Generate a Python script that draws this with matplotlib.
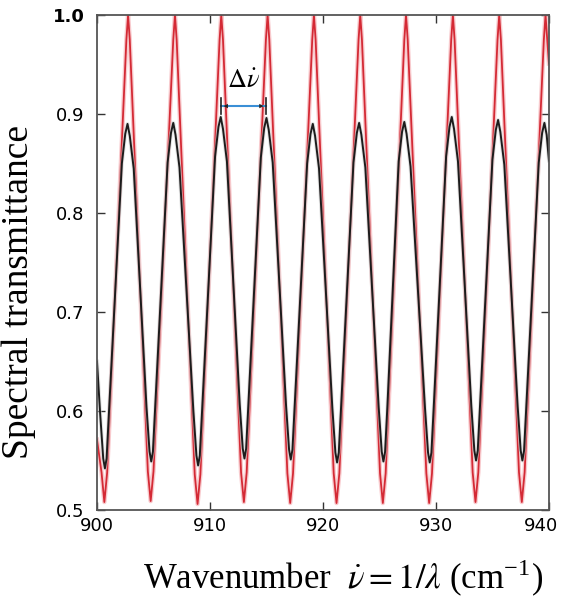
import numpy as np
import matplotlib.pyplot as plt

plt.rcParams['mathtext.fontset'] = 'stix'

# extrema (cm^-1, transmittance)
red_trough_x = [900.65, 904.75, 908.9, 913.0, 917.1, 921.2, 925.3, 929.4, 933.5, 937.6]
red_trough_y = [0.508, 0.509, 0.506, 0.508, 0.507, 0.507, 0.507, 0.507, 0.508, 0.508]
red_peak_x = [902.75, 906.9, 911.0, 915.1, 919.2, 923.3, 927.35, 931.5, 935.6, 939.7]
red_peak_y = [1.0, 1.0, 1.0, 1.0, 1.0, 1.0, 1.0, 1.0, 1.0, 1.0]
red_start = (900.0, 0.571)
red_end = (940.0, 0.951)

black_trough_x = [900.7, 904.8, 908.95, 913.05, 917.15, 921.25, 925.35, 929.45, 933.55, 937.65]
black_trough_y = [0.542, 0.549, 0.545, 0.552, 0.551, 0.548, 0.549, 0.548, 0.550, 0.550]
black_peak_x = [902.7, 906.75, 910.95, 915.0, 919.1, 923.2, 927.2, 931.4, 935.5, 939.6]
black_peak_y = [0.890, 0.891, 0.897, 0.896, 0.890, 0.891, 0.892, 0.897, 0.894, 0.891]
black_start = (900.0, 0.65)
black_end = (940.0, 0.853)

# rounding of the extrema as seen in the picture: (dx, dy) beside each extremum
red_trough_round = [(-0.25, 0.03), (0.25, 0.03)]
red_peak_round = [(-0.15, -0.025), (0.15, -0.025)]
black_trough_round = [(-0.42, 0.055), (-0.15, 0.01), (0.15, 0.01), (0.35, 0.055)]
black_peak_round = [(-0.5, -0.04), (-0.2, -0.01), (0.2, -0.012), (0.55, -0.045)]

yticks = [0.5, 0.6, 0.7, 0.8, 0.9, 1.0]
xticks = [900, 910, 920, 930, 940]


def build(start, end, tx, ty, px, py, tr, pr):
    pts = [start, end]
    for x, y in zip(tx, ty):
        pts.append((x, y))
        pts += [(x + dx, y + dy) for dx, dy in tr]
    for x, y in zip(px, py):
        pts.append((x, y))
        pts += [(x + dx, y + dy) for dx, dy in pr]
    pts = sorted(p for p in pts if start[0] <= p[0] <= end[0])
    return np.array(pts)


red = build(red_start, red_end, red_trough_x, red_trough_y,
            red_peak_x, red_peak_y, red_trough_round, red_peak_round)
black = build(black_start, black_end, black_trough_x, black_trough_y,
              black_peak_x, black_peak_y, black_trough_round, black_peak_round)

fig = plt.figure(figsize=(5.63, 5.98), dpi=100)
ax = fig.add_axes([0.1723, 0.1472, 0.8027, 0.8277])

ax.plot(red[:, 0], red[:, 1], color='#f4a7ad', lw=3.2, alpha=0.6, solid_joinstyle='round')
ax.plot(red[:, 0], red[:, 1], color='#d42a35', lw=1.3, solid_joinstyle='round')
ax.plot(black[:, 0], black[:, 1], color='#c8c8c8', lw=2.8, alpha=0.5, solid_joinstyle='round')
ax.plot(black[:, 0], black[:, 1], color='#1c1c1c', lw=1.4, solid_joinstyle='round')

ax.set_xlim(900, 940)
ax.set_ylim(0.5, 1.0)
# last x label sits a little inside the right edge, as in the reference
xlabels = [str(t) for t in xticks[:-1]] + ['']
ax.set_xticks(xticks, xlabels, fontfamily='DejaVu Sans', fontsize=13)
ax.annotate(str(xticks[-1]), xy=(xticks[-1], 0), xycoords=('data', 'axes fraction'),
            xytext=(-6, -5), textcoords='offset points', ha='center', va='top',
            fontfamily='DejaVu Sans', fontsize=13)
ax.set_yticks(yticks, ['%.1f' % t for t in yticks], fontfamily='DejaVu Sans', fontsize=13)
ax.get_yticklabels()[-1].set_fontweight('bold')
ax.tick_params(direction='in', top=True, right=True, length=6, width=1, color='#333333')
ax.tick_params(axis='y', pad=9)
ax.tick_params(axis='x', pad=5)
for s in ax.spines.values():
    s.set_color('#555555')
    s.set_linewidth(1.3)

# free spectral range marker between two black peaks
x0, x1 = black_peak_x[2], black_peak_x[3]
ya = 0.908
ax.plot([x0, x1], [ya, ya], color='#3a8fd6', lw=1.5)
for xe in (x0, x1):
    ax.plot([xe, xe], [ya - 0.008, ya + 0.008], color='#222222', lw=1.2)
ax.annotate('', xy=(x0, ya), xytext=(x0 + 0.6, ya),
            arrowprops=dict(arrowstyle='-|>', color='#222222', lw=0, mutation_scale=8))
ax.annotate('', xy=(x1, ya), xytext=(x1 - 0.6, ya),
            arrowprops=dict(arrowstyle='-|>', color='#222222', lw=0, mutation_scale=8))
ax.text((x0 + x1) / 2, 0.92, r'$\Delta\dot{\nu}$', fontsize=19, ha='center', va='bottom')

fig.text(19 / 563, 1 - 292 / 598, 'Spectral transmittance', rotation=90,
         ha='center', va='center', fontsize=27, fontfamily='Liberation Serif')
fig.text(343 / 563, 1 - 578 / 598,
         r'Wavenumber  $\dot{\nu} = 1/\lambda$ (cm$^{\mathregular{-1}}$)',
         ha='center', va='center', fontsize=25, fontfamily='Liberation Serif')

fig.savefig('out.png', dpi=100)
